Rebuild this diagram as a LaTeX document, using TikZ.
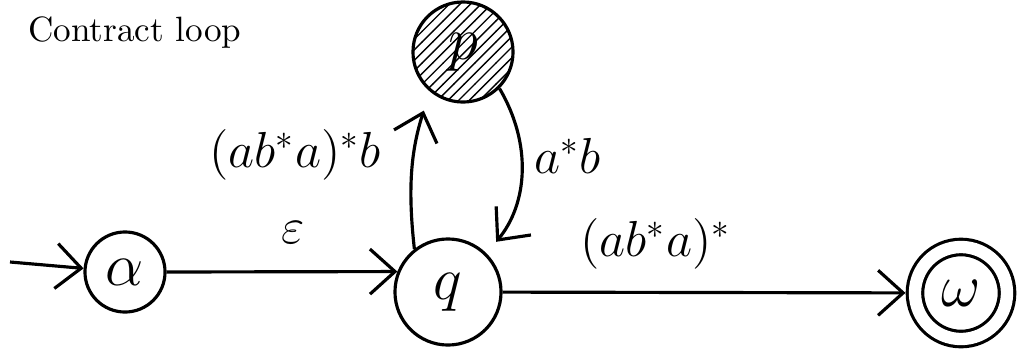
\documentclass[tikz,border=0pt]{standalone}
\usepackage{amsmath,amssymb}
\usetikzlibrary{arrows.meta,patterns}
\begin{document}
\begin{tikzpicture}[x=0.01cm,y=-0.01cm,>={Straight Barb[length=2.5mm,width=4.5mm]},line width=0.9pt,every node/.style={font=\Large},state/.style={draw,circle,inner sep=0pt,font=\LARGE}]
\useasboundingbox (0,0) rectangle (1036,348);
\node[anchor=west,font=\normalsize] (title) at (15,33) {Contract loop};
\node[state,minimum size=0.8cm] (alpha) at (125,272) {$\alpha$};
\node[state,minimum size=1.06cm] (q) at (448,292) {$q$};
\node[state,minimum size=1cm,pattern=north east lines] (p) at (463,52) {$p$};
\node[state,minimum size=0.92cm,double,double distance=3.5pt,outer sep=2.7pt] (omega) at (961,293) {$\omega$};
\coordinate (start) at (10,262);
\draw[->] (start) -- (alpha);
\draw[->] (alpha.east) -- (q.158) node[pos=.55,above=1.5mm] {$\varepsilon$};
\draw[->,shorten >=2mm] (q.128) to[bend left=12] node[pos=.6,left=2mm] {$(ab^*a)^*b$} (p.230);
\draw[->,shorten >=1.5mm] (p.-45) to[bend left=35] node[pos=.4,right] {$a^*b$} (q.45);
\draw[->] (q) -- (omega) node[pos=.38,above=1mm] {$(ab^*a)^*$};
\end{tikzpicture}
\end{document}
